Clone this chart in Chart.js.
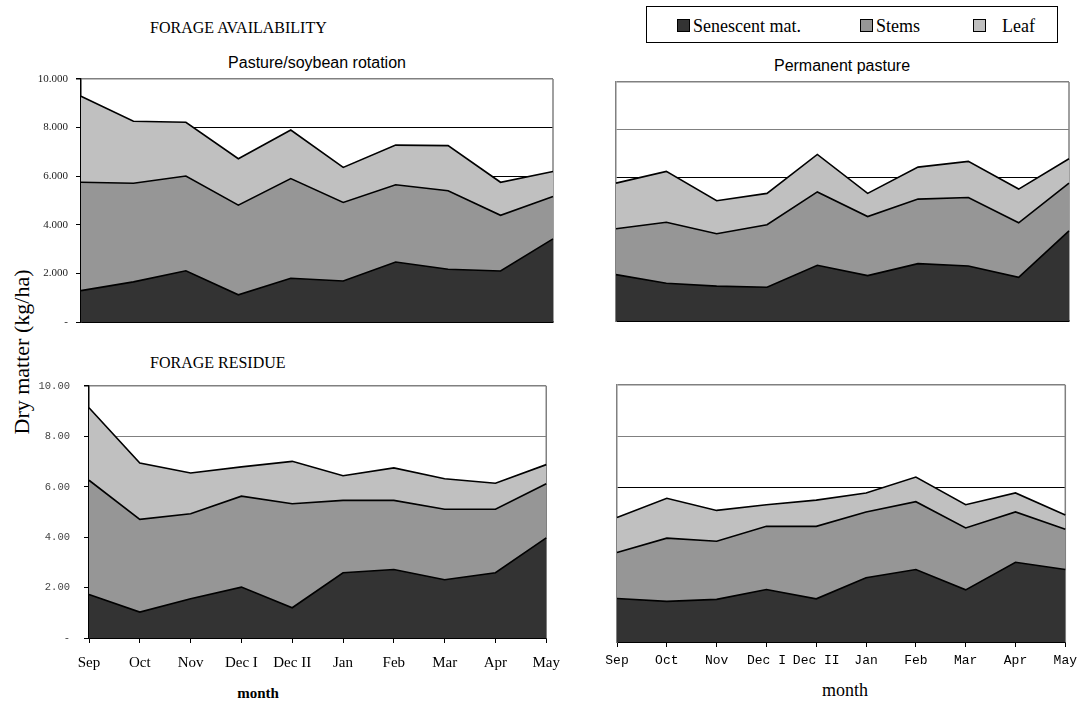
<!DOCTYPE html>
<html><head><meta charset="utf-8">
<script src="https://cdn.jsdelivr.net/npm/chart.js@4"></script>
<style>
html,body{margin:0;padding:0;background:#fff;}
body{width:1084px;height:702px;position:relative;overflow:hidden;font-family:"Liberation Serif",serif;color:#000;}
canvas{position:absolute;}
.t{position:absolute;white-space:nowrap;line-height:1;}
.legend{position:absolute;left:646px;top:6px;width:412px;height:37px;border:1px solid #000;box-sizing:border-box;}
.sw{position:absolute;width:13px;height:13px;border:1px solid #000;box-sizing:border-box;}
.lt{position:absolute;font-size:18px;line-height:1;top:10px;}
</style></head><body>

<div class="t" style="left:150px;top:20px;font-size:16px;">FORAGE AVAILABILITY</div>
<div class="t" style="left:150px;top:355px;font-size:16px;">FORAGE RESIDUE</div>
<div class="t" style="left:317px;top:63px;font-size:16px;font-family:'Liberation Sans',sans-serif;transform:translate(-50%,-50%);">Pasture/soybean rotation</div>
<div class="t" style="left:842px;top:66px;font-size:16px;font-family:'Liberation Sans',sans-serif;transform:translate(-50%,-50%);">Permanent pasture</div>
<div class="t" id="ytitle" style="left:22px;top:352px;font-size:22px;transform:translate(-50%,-50%) rotate(-90deg);">Dry matter (kg/ha)</div>
<div class="t" style="left:258px;top:693px;font-size:15px;font-weight:bold;transform:translate(-50%,-50%);">month</div>
<div class="t" style="left:845px;top:690px;font-size:18px;transform:translate(-50%,-50%);">month</div>

<div class="legend">
  <div class="sw" style="left:30px;top:12px;background:#333333;"></div>
  <div class="lt" style="left:46px;">Senescent mat.</div>
  <div class="sw" style="left:213px;top:12px;background:#969696;"></div>
  <div class="lt" style="left:229px;">Stems</div>
  <div class="sw" style="left:326px;top:12px;background:#c0c0c0;"></div>
  <div class="lt" style="left:355px;">Leaf</div>
</div>

<canvas id="c1"></canvas>
<canvas id="c2"></canvas>
<canvas id="c3"></canvas>
<canvas id="c4"></canvas>

<script>
// ---- data ----
const months = ['Sep','Oct','Nov','Dec I','Dec II','Jan','Feb','Mar','Apr','May'];
const seriesNames = ['Senescent mat.','Stems','Leaf'];

// Forage availability - Pasture/soybean rotation (kg/ha)
const availRotSenescent = [1290,1650,2110,1120,1800,1690,2470,2170,2100,3420];
const availRotStems     = [4460,4060,3900,3690,4100,3230,3180,3230,2290,1740];
const availRotLeaf      = [3540,2550,2210,1910,2000,1440,1630,1860,1360,1030];

// Forage availability - Permanent pasture
const availPermSenescent = [1940,1580,1460,1410,2330,1900,2400,2300,1830,3770];
const availPermStems     = [1920,2550,2190,2620,3070,2470,2700,2870,2280,2000];
const availPermLeaf      = [1910,2130,1380,1310,1570,970,1340,1510,1410,1020];

// Forage residue - Pasture/soybean rotation
const resRotSenescent = [1730,1030,1560,2020,1200,2590,2720,2310,2590,3970];
const resRotStems     = [4530,3680,3370,3610,4130,2870,2740,2800,2520,2150];
const resRotLeaf      = [2880,2230,1620,1160,1680,980,1290,1210,1030,760];

// Forage residue - Permanent pasture
const resPermSenescent = [1690,1580,1660,2040,1680,2500,2820,2030,3100,2820];
const resPermStems     = [1790,2460,2260,2460,2820,2560,2640,2410,1960,1570];
const resPermLeaf      = [1360,1550,1200,840,1020,740,960,900,740,550];

const availTickLabels   = ['-','2.000','4.000','6.000','8.000','10.000'];
const residueTickLabels = ['-','2.00','4.00','6.00','8.00','10.00'];

const colors = ['#333333','#969696','#c0c0c0'];

const frame = {
  id:'frame',
  beforeDatasetsDraw(chart){
    const a = chart.chartArea, ctx = chart.ctx;
    ctx.save();
    ctx.strokeStyle = '#808080';
    ctx.lineWidth = 1.5;
    ctx.beginPath();
    ctx.moveTo(a.right, a.top);
    ctx.lineTo(a.right, a.bottom);
    ctx.stroke();
    ctx.restore();
  }
};

function makeChart(id, box, data, opt){
  const left = box.l - opt.yW;
  const top = box.t - opt.padT;
  const width = box.r + opt.padR - left;
  const height = box.b + opt.xH - top;
  const cv = document.getElementById(id);
  cv.width = width; cv.height = height;
  cv.style.left = left + 'px'; cv.style.top = top + 'px';
  cv.style.width = width + 'px'; cv.style.height = height + 'px';
  const ds = data.map((vals, i) => ({
    label: seriesNames[i],
    data: vals,
    backgroundColor: colors[i],
    borderColor: '#000',
    borderWidth: 1.6,
    pointRadius: 0,
    tension: 0,
    fill: i === 0 ? 'origin' : '-1'
  }));
  return new Chart(cv, {
    type: 'line',
    data: { labels: months, datasets: ds },
    plugins: [frame],
    options: {
      responsive: false,
      animation: false,
      devicePixelRatio: 1,
      layout: { padding: { left: 0, top: opt.padT, right: opt.padR, bottom: 0 } },
      plugins: { legend: { display: false }, tooltip: { enabled: false }, title: { display: false } },
      scales: {
        x: {
          type: 'category',
          offset: false,
          grid: opt.xTicks ? { display: true, drawOnChartArea: false, drawTicks: true, tickLength: 5, tickColor: '#000', lineWidth: 1 } : { display: false },
          border: { display: true, color: '#000', width: 1.5 },
          ticks: opt.xTicks ? { display: true, color: '#000', font: opt.xFont, padding: opt.xPad, maxRotation: 0, autoSkip: false } : { display: false },
          afterFit(s){ s.height = opt.xH; }
        },
        y: {
          stacked: true,
          min: 0, max: 10000,
          ticks: opt.yTicks ? {
            display: true, stepSize: 2000, color: opt.yColor, font: opt.yFont, padding: opt.yPad,
            callback: (v, i) => opt.yLabels[i]
          } : { display: false, stepSize: 2000 },
          grid: {
            display: true, drawOnChartArea: true, drawTicks: opt.yTicks, tickLength: 5, tickColor: '#000',
            color: (c) => opt.gridColor(c.tick ? c.tick.value : 0),
            lineWidth: (c) => (c.tick && c.tick.value === 10000) ? 1.5 : 1
          },
          border: { display: true, color: opt.yTicks ? '#000' : '#808080', width: 1.5 },
          afterFit(s){ s.width = opt.yW; }
        }
      }
    }
  });
}

const serifSmall = { family: 'Liberation Serif', size: 11 };
const monoSmall = { family: 'Liberation Mono', size: 10.5 };

makeChart('c1', {l:81, t:79, r:553, b:322}, [availRotSenescent, availRotStems, availRotLeaf], {
  yW: 70, padT: 17, padR: 8, xH: 17, xTicks: false, yTicks: true,
  yLabels: availTickLabels, yFont: serifSmall, yColor: '#222', yPad: 8,
  gridColor: v => v === 10000 ? '#808080' : '#000'
});
makeChart('c2', {l:616, t:82, r:1069, b:321}, [availPermSenescent, availPermStems, availPermLeaf], {
  yW: 10, padT: 10, padR: 8, xH: 10, xTicks: false, yTicks: false,
  gridColor: v => (v >= 8000) ? '#808080' : '#000'
});
makeChart('c3', {l:89, t:386, r:551, b:638}, [resRotSenescent, resRotStems, resRotLeaf], {
  yW: 78, padT: 23, padR: 20, xH: 44, xTicks: true, yTicks: true,
  xFont: { family: 'Liberation Serif', size: 15 }, xPad: 11,
  yLabels: residueTickLabels, yFont: monoSmall, yColor: '#444', yPad: 14,
  gridColor: v => (v >= 8000) ? '#808080' : '#000'
});
makeChart('c4', {l:617, t:385, r:1070, b:642}, [resPermSenescent, resPermStems, resPermLeaf], {
  yW: 30, padT: 10, padR: 13, xH: 40, xTicks: true, yTicks: false,
  xFont: { family: 'Liberation Mono', size: 13 }, xPad: 6,
  gridColor: v => (v >= 8000) ? '#808080' : '#000'
});
</script>
</body></html>
